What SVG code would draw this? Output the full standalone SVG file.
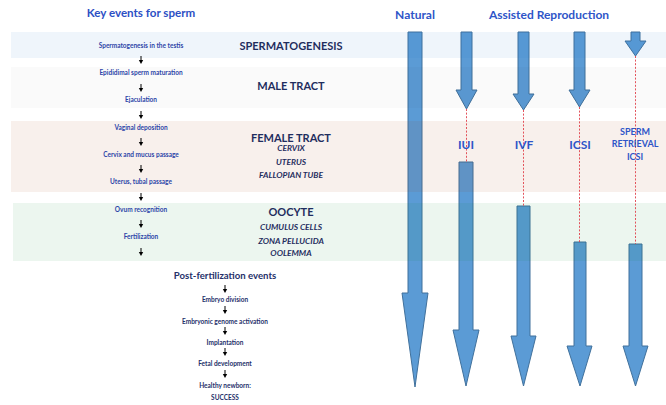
<svg xmlns="http://www.w3.org/2000/svg" xmlns:xlink="http://www.w3.org/1999/xlink" width="666" height="405" viewBox="0 0 666 405">
<style>
.t{font-family:Lato,"Open Sans","Liberation Sans",sans-serif;font-weight:bold;text-anchor:middle}
.s{font-size:6.5px;fill:#2d45a8}
.p{font-size:6.5px;fill:#25306a}
.h{font-size:11.6px;fill:#2c4fc4}
.m{font-size:11px;fill:#1f2d5e}
.i{font-size:8.4px;fill:#1f2d5e;font-style:italic}
.r{font-size:12px;fill:#2e55c8}
.rs{font-size:9px;fill:#2e55c8}
.big{fill:#5b9bd5;stroke:#41719c;stroke-width:1}
.dash{stroke:#e0404a;stroke-width:0.9;stroke-dasharray:2,1.6;fill:none}
</style>
<defs>
<g id="da"><line x1="0" y1="-4" x2="0" y2="1" stroke="#000" stroke-width="1"/><path d="M-2.2,0 L2.2,0 L0,4 Z" fill="#000"/></g>
</defs>
<rect width="666" height="405" fill="#fff"/>
<g id="arrows">
<g id="natural"><path class="big" d="M408,32 H422 V293 H428 L415,387 L402,293 H408 Z"/></g>
<g id="iui"><path class="big" d="M461,32 H472 V90 H477 L466.5,109 L456,90 H461 Z"/><path class="big" d="M459,162 H473 V330 H479 L466,386 L453,330 H459 Z"/></g>
<g id="ivf"><path class="big" d="M518,32 H529 V94 H534 L523.5,110 L513,94 H518 Z"/><path class="big" d="M517,206 H530 V336 H536 L523.5,386 L511,336 H517 Z"/></g>
<g id="icsi"><path class="big" d="M574,32 H585 V90 H590 L579.5,107 L569,90 H574 Z"/><path class="big" d="M574,242 H586 V346 H592 L580,386 L567,346 H574 Z"/></g>
<g id="sr"><path class="big" d="M631,32 H640 V41 H646 L635.5,56 L625,41 H631 Z"/><path class="big" d="M629,244 H642 V346 H648 L635.5,386 L623,346 H629 Z"/></g>
</g>
<g id="bands">
<rect x="11" y="32" width="655" height="26" fill="#1973cd" fill-opacity="0.07"/>
<rect x="11" y="67" width="655" height="41" fill="#000" fill-opacity="0.018"/>
<rect x="11" y="121" width="655" height="71" fill="#a03c00" fill-opacity="0.075"/>
<rect x="13" y="203" width="653" height="58" fill="#05872d" fill-opacity="0.075"/>
</g>
<g id="connectors">
<line class="dash" x1="466.5" y1="109" x2="466.5" y2="162"/>
<line class="dash" x1="523.5" y1="110" x2="523.5" y2="206"/>
<line class="dash" x1="579.5" y1="107" x2="579.5" y2="242"/>
<line class="dash" x1="635.5" y1="56" x2="635.5" y2="244"/>
<use xlink:href="#da" href="#da" x="141" y="60"/>
<use xlink:href="#da" href="#da" x="141" y="88"/>
<use xlink:href="#da" href="#da" x="141" y="115"/>
<use xlink:href="#da" href="#da" x="141" y="142"/>
<use xlink:href="#da" href="#da" x="141" y="169"/>
<use xlink:href="#da" href="#da" x="141" y="197"/>
<use xlink:href="#da" href="#da" x="141" y="224"/>
<use xlink:href="#da" href="#da" x="141" y="252"/>
<use xlink:href="#da" href="#da" x="225" y="289"/>
<use xlink:href="#da" href="#da" x="225" y="310"/>
<use xlink:href="#da" href="#da" x="225" y="331"/>
<use xlink:href="#da" href="#da" x="225" y="352"/>
<use xlink:href="#da" href="#da" x="225" y="374"/>
</g>
<g id="left-events">
<text class="t h" x="141" y="17">Key events for sperm</text>
<text class="t s" x="141" y="48.3">Spermatogenesis in the testis</text>
<text class="t s" x="141" y="75.3">Epididimal sperm maturation</text>
<text class="t s" x="141" y="102.3">Ejaculation</text>
<text class="t s" x="141" y="130.3">Vaginal deposition</text>
<text class="t s" x="141" y="157.3">Cervix and mucus passage</text>
<text class="t s" x="141" y="184.3">Uterus, tubal passage</text>
<text class="t s" x="141" y="212.3">Ovum recognition</text>
<text class="t s" x="141" y="239.3">Fertilization</text>
</g>
<g id="post-events">
<text class="t" x="225" y="279" style="font-size:9.6px;fill:#25306a">Post-fertilization events</text>
<text class="t p" x="225" y="301.5">Embryo division</text>
<text class="t p" x="225" y="323.5">Embryonic genome activation</text>
<text class="t p" x="225" y="344.5">Implantation</text>
<text class="t p" x="225" y="365.5">Fetal development</text>
<text class="t p" x="225" y="387.5">Healthy newborn:</text>
<text class="t p" x="225" y="399.5">SUCCESS</text>
</g>
<g id="stages">
<text class="t m" x="291" y="50">SPERMATOGENESIS</text>
<text class="t m" x="291" y="90">MALE TRACT</text>
<text class="t m" x="291" y="142">FEMALE TRACT</text>
<text class="t i" x="291" y="151">CERVIX</text>
<text class="t i" x="291" y="165">UTERUS</text>
<text class="t i" x="291" y="178">FALLOPIAN TUBE</text>
<text class="t m" x="291" y="216">OOCYTE</text>
<text class="t i" x="291" y="230">CUMULUS CELLS</text>
<text class="t i" x="291" y="244">ZONA PELLUCIDA</text>
<text class="t i" x="291" y="256">OOLEMMA</text>
</g>
<g id="labels">
<text class="t r" x="415" y="19">Natural</text>
<text class="t r" x="549" y="19">Assisted Reproduction</text>
<text class="t r" x="466" y="149">IUI</text>
<text class="t r" x="524" y="149">IVF</text>
<text class="t r" x="580" y="149">ICSI</text>
<text class="t rs" x="635" y="135">SPERM</text>
<text class="t rs" x="635" y="147">RETRIEVAL</text>
<text class="t rs" x="635" y="160">ICSI</text>
</g>
</svg>
